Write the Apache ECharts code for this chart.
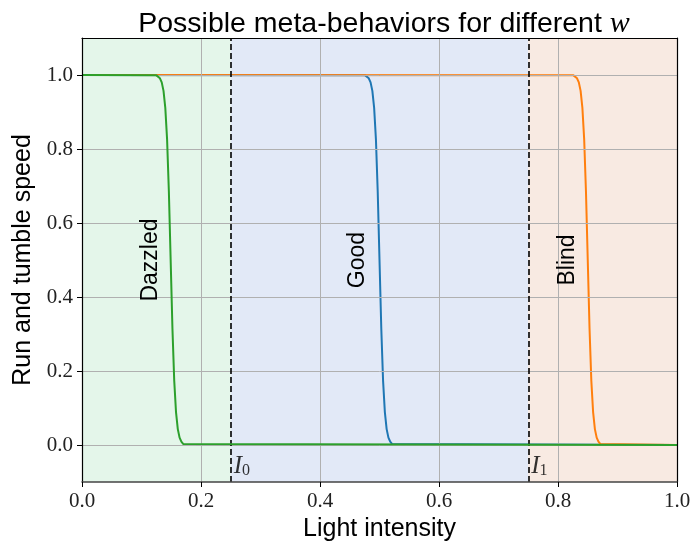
<!DOCTYPE html>
<html><head><meta charset="utf-8">
<script src="https://cdn.jsdelivr.net/npm/echarts@6/dist/echarts.min.js"></script>
<style>html,body{margin:0;padding:0;background:#fff}#c{width:690px;height:543px}</style>
</head><body><div id="c"></div>
<script>
// ---- data ----
const xTicks = [0, 0.2, 0.4, 0.6, 0.8, 1.0];
const yTicks = [0, 0.2, 0.4, 0.6, 0.8, 1.0];
const regionBounds = [[0, 0.25], [0.25, 0.75], [0.75, 1.0]];
const regionColors = ['#e4f6ea', '#e2e9f7', '#f8eae2'];
const thresholds = [0.25, 0.75];
const thresholdSubs = ['0', '1'];

const goodX = [0, 0.476, 0.479, 0.482, 0.485, 0.488, 0.491, 0.494, 0.497, 0.500, 0.503, 0.506, 0.509, 0.512, 0.515, 0.518, 0.521, 0.524, 1];
const goodY = [1, 0.999, 0.997, 0.991, 0.980, 0.957, 0.911, 0.826, 0.685, 0.5, 0.315, 0.174, 0.089, 0.043, 0.020, 0.009, 0.003, 0.001, 0];
const blindX = [0, 0.826, 0.829, 0.832, 0.835, 0.838, 0.841, 0.844, 0.847, 0.850, 0.853, 0.856, 0.859, 0.862, 0.865, 0.868, 0.871, 0.874, 1];
const blindY = [1, 0.999, 0.997, 0.991, 0.980, 0.957, 0.911, 0.826, 0.685, 0.5, 0.315, 0.174, 0.089, 0.043, 0.020, 0.009, 0.003, 0.001, 0];
const dazzledX = [0, 0.125, 0.128, 0.131, 0.134, 0.137, 0.140, 0.143, 0.146, 0.149, 0.152, 0.155, 0.158, 0.161, 0.164, 0.167, 0.170, 0.173, 1];
const dazzledY = [1, 0.999, 0.997, 0.991, 0.980, 0.957, 0.911, 0.826, 0.685, 0.5, 0.315, 0.174, 0.089, 0.043, 0.020, 0.009, 0.003, 0.001, 0];

const behaviorNames = ['Dazzled', 'Good', 'Blind'];
const behaviorLabelX = [0.116, 0.463, 0.816];
const behaviorLabelY = [0.5, 0.5, 0.5];

// ---- chart ----
const zip = (xs, ys) => xs.map((x, i) => [x, ys[i]]);
const serif = 'Liberation Serif';
const sans = 'Liberation Sans';

const chart = echarts.init(document.getElementById('c'), null, {renderer: 'canvas'});
chart.setOption({
  animation: false,
  backgroundColor: '#fff',
  title: {
    text: '{a|Possible meta-behaviors for different }{w|w}',
    left: 379, top: 4, textAlign: 'center',
    textStyle: {
      fontWeight: 'normal',
      rich: {
        a: {fontFamily: sans, fontSize: 28.5, fontWeight: 'normal', color: '#000'},
        w: {fontFamily: serif, fontStyle: 'italic', fontWeight: 'normal', fontSize: 30, color: '#000'}
      }
    }
  },
  grid: {left: 82, right: 13, top: 38, bottom: 61, outerBoundsMode: 'none', containLabel: false},
  xAxis: [{
    type: 'value', min: 0, max: 1, interval: 0.2, position: 'bottom', z: 10,
    axisLine: {show: true, onZero: false, lineStyle: {color: '#444', width: 1.5}},
    axisTick: {show: true, length: 5, lineStyle: {color: '#000', width: 1}},
    axisLabel: {formatter: v => v.toFixed(1), fontFamily: serif, fontSize: 21, color: '#222', margin: 9},
    splitLine: {show: false},
    name: 'Light intensity', nameLocation: 'middle', nameGap: 31,
    nameTextStyle: {fontFamily: sans, fontSize: 25, color: '#000'}
  }, {
    type: 'value', min: 0, max: 1, position: 'top', z: 10,
    axisLine: {show: true, onZero: false, lineStyle: {color: '#000', width: 1.2}},
    axisTick: {show: false}, axisLabel: {show: false}, splitLine: {show: false}
  }],
  yAxis: [{
    type: 'value', min: -0.1, max: 1.1, position: 'left', z: 10,
    axisLine: {show: true, onZero: false, lineStyle: {color: '#000', width: 1.2}},
    axisTick: {show: true, length: 5, customValues: yTicks, lineStyle: {color: '#000', width: 1}},
    axisLabel: {customValues: yTicks, formatter: v => v.toFixed(1), fontFamily: serif, fontSize: 21, color: '#222', margin: 9},
    splitLine: {show: false},
    name: 'Run and tumble speed', nameLocation: 'middle', nameGap: 44, nameRotate: 90,
    nameTextStyle: {fontFamily: sans, fontSize: 25, color: '#000'}
  }, {
    type: 'value', min: -0.1, max: 1.1, position: 'right', z: 10,
    axisLine: {show: true, onZero: false, lineStyle: {color: '#000', width: 1.2}},
    axisTick: {show: false}, axisLabel: {show: false}, splitLine: {show: false}
  }],
  series: [
    {
      type: 'line', data: [], z: 1, silent: true,
      markArea: {
        silent: true,
        data: regionBounds.map((b, i) => [
          {xAxis: b[0], yAxis: -0.1, itemStyle: {color: regionColors[i]}},
          {xAxis: b[1], yAxis: 1.1}
        ])
      }
    },
    {
      type: 'line', data: [], z: 2, silent: true,
      markLine: {
        silent: true, symbol: 'none', label: {show: false},
        lineStyle: {color: '#b0b0b0', width: 1, type: 'solid'},
        data: xTicks.filter(v => v > 0 && v < 1).map(v => ({xAxis: v}))
          .concat(yTicks.map(v => ({yAxis: v})))
      }
    },
    {type: 'line', name: 'Good', data: zip(goodX, goodY), showSymbol: false, symbol: 'none', z: 3,
     lineStyle: {color: '#1f77b4', width: 2}},
    {type: 'line', name: 'Blind', data: zip(blindX, blindY), showSymbol: false, symbol: 'none', z: 4,
     lineStyle: {color: '#ff7f0e', width: 2}},
    {type: 'line', name: 'Dazzled', data: zip(dazzledX, dazzledY), showSymbol: false, symbol: 'none', z: 5,
     lineStyle: {color: '#2ca02c', width: 2}},
    {
      type: 'line', data: [], z: 6, silent: true,
      markLine: {
        silent: true, symbol: 'none', label: {show: false},
        lineStyle: {color: '#000', width: 1.6, type: [6, 3]},
        data: thresholds.map(v => ({xAxis: v}))
      }
    },
    {
      type: 'scatter', z: 7, silent: true, symbolSize: 0,
      data: thresholds.map(v => [v, -0.057]),
      label: {
        show: true, position: 'right', distance: 3,
        formatter: p => '{i|I}{s|' + thresholdSubs[p.dataIndex] + '}',
        rich: {
          i: {fontFamily: serif, fontStyle: 'italic', fontSize: 25, color: '#000'},
          s: {fontFamily: serif, fontSize: 16, color: '#000', verticalAlign: 'bottom', lineHeight: 12}
        }
      }
    },
    {
      type: 'scatter', z: 7, silent: true, symbolSize: 0,
      data: behaviorNames.map((n, i) => [behaviorLabelX[i], behaviorLabelY[i]]),
      label: {
        show: true, position: 'inside', rotate: 90,
        formatter: p => behaviorNames[p.dataIndex],
        fontFamily: sans, fontSize: 23, color: '#000', opacity: 1, textBorderWidth: 0
      }
    }
  ]
});
</script>
</body></html>
